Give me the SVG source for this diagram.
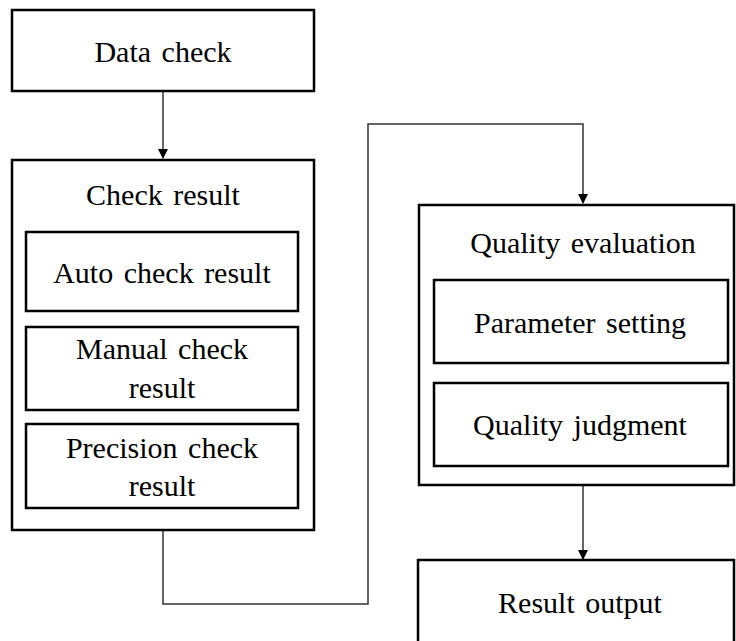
<svg xmlns="http://www.w3.org/2000/svg" width="736" height="641" viewBox="0 0 736 641">
<style>
.box{fill:#fff;stroke:#000;stroke-width:2.5}
.t{font-family:"Liberation Serif","Times New Roman",serif;font-size:30px;fill:#000;text-anchor:middle;word-spacing:3px}
.c{fill:none;stroke:#333;stroke-width:1.5}
</style>
<defs>
<marker id="ah" markerWidth="10" markerHeight="10" refX="9" refY="5" orient="auto" markerUnits="userSpaceOnUse">
<path d="M0,0 L10,5 L0,10 Z" fill="#000"/>
</marker>
</defs>
<g id="connectors">
<path class="c" d="M163,92 V158" marker-end="url(#ah)"/>
<path class="c" d="M163,530 V604 H368 V124 H583 V203" marker-end="url(#ah)"/>
<path class="c" d="M583,485 V559" marker-end="url(#ah)"/>
</g>
<g id="data-check">
<rect class="box" x="12" y="10" width="302" height="81"/>
<text class="t" x="163" y="62">Data check</text>
</g>
<g id="check-result">
<rect class="box" x="12" y="160" width="302" height="370"/>
<text class="t" x="163" y="205">Check result</text>
</g>
<g id="auto-check">
<rect class="box" x="26" y="232" width="272" height="79"/>
<text class="t" x="162" y="283">Auto check result</text>
</g>
<g id="manual-check">
<rect class="box" x="26" y="327" width="272" height="83"/>
<text class="t" x="162" y="359">Manual check</text>
<text class="t" x="162" y="398">result</text>
</g>
<g id="precision-check">
<rect class="box" x="26" y="424" width="272" height="84"/>
<text class="t" x="162" y="458">Precision check</text>
<text class="t" x="162" y="496">result</text>
</g>
<g id="quality-evaluation">
<rect class="box" x="419" y="205" width="315" height="280"/>
<text class="t" x="583" y="253">Quality evaluation</text>
</g>
<g id="parameter-setting">
<rect class="box" x="434" y="280" width="294" height="83"/>
<text class="t" x="580" y="333">Parameter setting</text>
</g>
<g id="quality-judgment">
<rect class="box" x="434" y="383" width="294" height="83"/>
<text class="t" x="580" y="435">Quality judgment</text>
</g>
<g id="result-output">
<rect class="box" x="418" y="560" width="316" height="90"/>
<text class="t" x="580" y="613">Result output</text>
</g>
</svg>
